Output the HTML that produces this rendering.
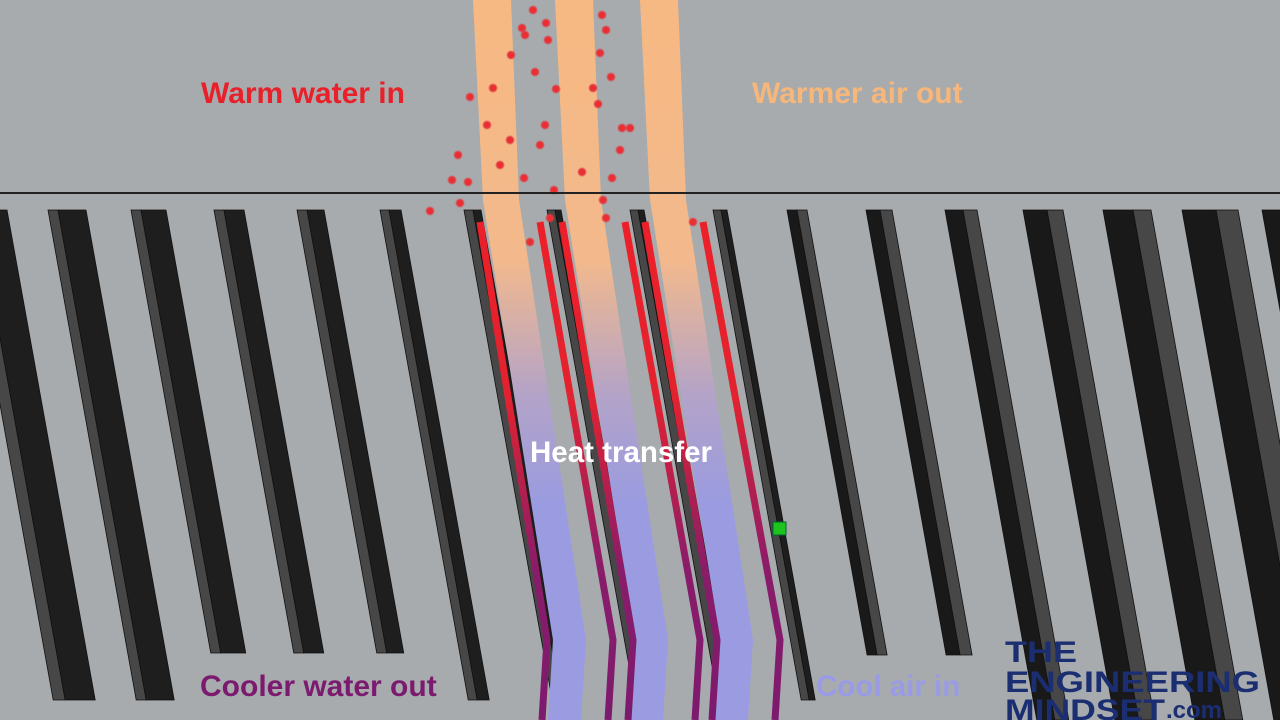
<!DOCTYPE html>
<html><head><meta charset="utf-8"><style>
html,body{margin:0;padding:0;background:#a7abad;}
svg{display:block}
text{font-family:"Liberation Sans",Arial,sans-serif;font-weight:bold}
</style></head><body>
<svg id="s" width="1280" height="720" viewBox="0 0 1280 720">
<defs>
<linearGradient id="air" gradientUnits="userSpaceOnUse" x1="0" y1="0" x2="0" y2="720">
<stop offset="0" stop-color="#f7b983"/><stop offset="0.36" stop-color="#f3b98c"/><stop offset="0.55" stop-color="#b3a3c8"/><stop offset="0.7" stop-color="#9a9be0"/><stop offset="1" stop-color="#9a9be0"/>
</linearGradient>
<linearGradient id="water" gradientUnits="userSpaceOnUse" x1="0" y1="220" x2="0" y2="720">
<stop offset="0" stop-color="#ec2029"/><stop offset="0.35" stop-color="#e3222f"/><stop offset="0.7" stop-color="#8a1c6a"/><stop offset="1" stop-color="#7d1a6e"/>
</linearGradient>
<radialGradient id="dot"><stop offset="0" stop-color="#ee2a2e"/><stop offset="0.6" stop-color="#e5333a"/><stop offset="1" stop-color="#e5333a" stop-opacity="0"/></radialGradient>
</defs>
<rect width="1280" height="720" fill="#a7abad"/>
<g id="fins"></g>
<g id="streams"></g>
<g id="waters"></g>
<g id="dots"></g>
<line x1="0" y1="193" x2="1280" y2="193" stroke="#222" stroke-width="2"/>
<text x="201" y="103" font-size="30" fill="#e8202a">Warm water in</text>
<text x="752" y="103" font-size="30" fill="#f7b67a">Warmer air out</text>
<text x="530" y="462" font-size="29.5" fill="#ffffff">Heat transfer</text>
<text x="200" y="696" font-size="30" fill="#7b1a6e">Cooler water out</text>
<text x="816" y="696" font-size="29.5" fill="#9a9be6">Cool air in</text>
<rect x="773" y="522" width="13" height="13" fill="#1ec41e" stroke="#063" stroke-width="1"/>
<g fill="#1b2e72">
<text x="1005" y="662" font-size="30" textLength="72" lengthAdjust="spacingAndGlyphs">THE</text>
<text x="1005" y="692" font-size="30" textLength="255" lengthAdjust="spacingAndGlyphs">ENGINEERING</text>
<text x="1005" y="720" font-size="30" textLength="160" lengthAdjust="spacingAndGlyphs">MINDSET</text>
<text x="1166" y="718" font-size="24">.com</text>
</g>
</svg>
<script>
const NS="http://www.w3.org/2000/svg";
const finTopX=[-35,48,131,214,297,380,464,547,630,713,787,866,945,1023,1103,1182,1262];
const finBottomY=[700,700,653,653,653,700,700,700,700,700,655,655,720,720,720,720,720];
const finLight=[12,10,10,10,10,9,9,8,8,8,10,12,14,16,18,22,24];
const finDark=[30,28,25,20,17,12,8,6,6,6,10,14,18,24,30,34,36];
const finSide=["L","L","L","L","L","L","L","L","L","L","R","R","R","R","R","R","R"];
const streamTopX=[473,555,640];
const waterTopX=[480,540,562,625,645,703];
const waterBotX=[547,613,633,700,717,780];
const dropX=[533,546,522,602,606,511,525,548,470,600,611,535,493,556,593,598,545,487,630,622,510,540,458,620,452,468,500,524,582,554,612,603,430,460,550,606,530,693];
const dropY=[10,23,28,15,30,55,35,40,97,53,77,72,88,89,88,104,125,125,128,128,140,145,155,150,180,182,165,178,172,190,178,200,211,203,218,218,242,222];
const topY=210, slope=0.18;
const fins=document.getElementById('fins');
for(let i=0;i<finTopX.length;i++){
  const x=finTopX[i], l=finLight[i], d=finDark[i], bY=finBottomY[i], dx=(bY-topY)*slope;
  const g=document.createElementNS(NS,'g');
  
  
  let a,b;
  if(finSide[i]==="L"){a=[x,l,"#474747"];b=[x+l,d,"#1e1e1e"];}
  else{a=[x,d,"#191919"];b=[x+d,l,"#474747"];}
  [a,b].forEach(p=>{
    const pg=document.createElementNS(NS,'polygon');
    pg.setAttribute('points',`${p[0]},${topY} ${p[0]+p[1]},${topY} ${p[0]+p[1]+dx},${bY} ${p[0]+dx},${bY}`);
    pg.setAttribute('fill',p[2]);pg.setAttribute('stroke','#111');pg.setAttribute('stroke-width','0.8');
    
    
    g.appendChild(pg);
  });
  fins.appendChild(g);
}
const streams=document.getElementById('streams');
streamTopX.forEach((x,i)=>{
  const w=38;
  const pts=`${x},0 ${x+w},0 ${x+w+8},200 ${x+w+75},640 ${x+w+70},720 ${x+75},720 ${x+80},640 ${x+10},200`;
  const p=document.createElementNS(NS,'polygon');
  p.setAttribute('points',pts);p.setAttribute('fill','url(#air)');
  
  
  streams.appendChild(p);
});
const waters=document.getElementById('waters');
waterTopX.forEach((x,i)=>{
  const bx=waterBotX[i];
  const p=document.createElementNS(NS,'polyline');
  p.setAttribute('points',`${x},222 ${bx},640 ${bx-5},720`);
  p.setAttribute('fill','none');p.setAttribute('stroke','url(#water)');p.setAttribute('stroke-width','7');
  
  
  waters.appendChild(p);
});
const dots=document.getElementById('dots');
dropX.forEach((x,i)=>{
  const c=document.createElementNS(NS,'circle');
  c.setAttribute('cx',x);c.setAttribute('cy',dropY[i]);c.setAttribute('r','5');c.setAttribute('fill','url(#dot)');
  
  
  dots.appendChild(c);
});
</script>
</body></html>
